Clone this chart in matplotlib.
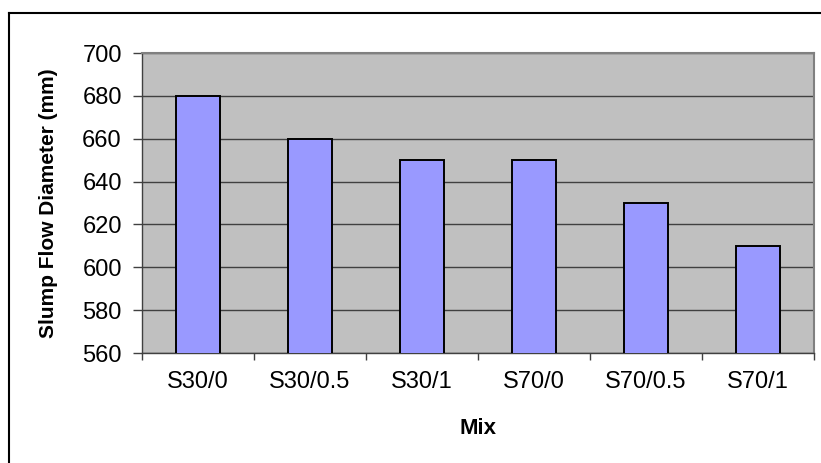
import matplotlib.pyplot as plt
from matplotlib.lines import Line2D
import numpy as np

plt.rcParams['font.family'] = ['Liberation Sans', 'DejaVu Sans']

# Data
mixes = ["S30/0", "S30/0.5", "S30/1", "S70/0", "S70/0.5", "S70/1"]
slump_flow = [680, 660, 650, 650, 630, 610]

W, H = 821, 463
fig = plt.figure(figsize=(W / 100, H / 100), dpi=100, facecolor="white")

# Plot area in pixel coordinates (left, top, right, bottom)
pl, pt, pr, pb = 142, 53, 814, 353
ax = fig.add_axes([pl / W, 1 - pb / H, (pr - pl) / W, (pb - pt) / H])
ax.set_facecolor("#C0C0C0")

x = np.arange(len(mixes))
ax.bar(x, slump_flow, width=0.4, color="#9999FF", edgecolor="black",
       linewidth=1.4, zorder=3)

ax.set_xlim(-0.5, len(mixes) - 0.5)
ax.set_ylim(560, 700)
ax.set_yticks(np.arange(560, 701, 20))
ax.yaxis.grid(True, color="#404040", linewidth=1.0, zorder=1)
ax.set_axisbelow(True)

# x ticks at category boundaries, labels at centres
ax.set_xticks(np.arange(-0.5, len(mixes), 1.0))
ax.set_xticklabels([])
ax.set_xticks(x, minor=True)
ax.set_xticklabels(mixes, minor=True, fontsize=17)
ax.tick_params(axis="x", which="minor", length=0, pad=13)
ax.tick_params(axis="x", which="major", length=5, width=1, color="#404040",
               direction="out")
ax.tick_params(axis="y", length=6.5, width=1, color="#404040", labelsize=17,
               pad=8)

for side in ["top", "right"]:
    ax.spines[side].set_color("#808080")
    ax.spines[side].set_linewidth(1.5)
for side in ["left", "bottom"]:
    ax.spines[side].set_color("#404040")
    ax.spines[side].set_linewidth(1.0)

ax.set_xlabel("Mix", fontsize=16, fontweight="bold")
ax.set_ylabel("Slump Flow Diameter (mm)", fontsize=15, fontweight="bold")
# label centres in pixels: Mix at y=428, y label at x=48
ax.xaxis.set_label_coords(0.5, (pb - 428) / (pb - pt))
ax.yaxis.set_label_coords((48 - pl) / (pr - pl), 0.5)
ax.yaxis.label.set_va("center")
ax.xaxis.label.set_va("center")

# Outer chart border (top and left visible)
bx, by = 9, 13
fig.add_artist(Line2D([bx / W, 1.0], [1 - by / H, 1 - by / H],
                      transform=fig.transFigure, color="black", linewidth=1.5))
fig.add_artist(Line2D([bx / W, bx / W], [0.0, 1 - by / H],
                      transform=fig.transFigure, color="black", linewidth=1.5))

fig.savefig("out.png", dpi=100, facecolor="white")
